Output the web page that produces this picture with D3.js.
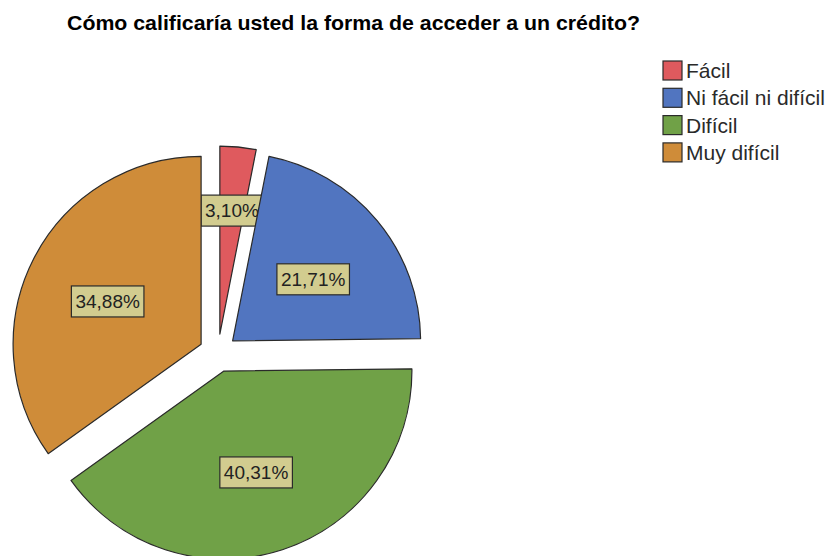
<!DOCTYPE html>
<html>
<head>
<meta charset="utf-8">
<script src="https://cdn.jsdelivr.net/npm/d3@7"></script>
<style>
  body { margin: 0; background: #fff; }
  svg { display: block; }
</style>
</head>
<body>
<svg id="chart" width="827" height="556"></svg>
<script>
const title = "Cómo calificaría usted la forma de acceder a un crédito?";
const categories = ["Fácil", "Ni fácil ni difícil", "Difícil", "Muy difícil"];
const values = [3.10, 21.71, 40.31, 34.88];
const colors = ["#df5a5e", "#5175c0", "#70a147", "#cf8c39"];

const svg = d3.select("#chart");
const cx = 218, cy = 353, R = 188, explode = 19;

svg.append("text")
  .attr("x", 67).attr("y", 30)
  .attr("font-family", "Liberation Sans, Arial, sans-serif")
  .attr("font-weight", "bold")
  .attr("font-size", 21)
  .attr("textLength", 573)
  .attr("lengthAdjust", "spacingAndGlyphs")
  .attr("fill", "#000")
  .text(title);

const data = categories.map((c, i) => ({ cat: c, value: values[i], color: colors[i] }));
const pie = d3.pie().value(d => d.value).sort(null);
const arcs = pie(data);
const arc = d3.arc().innerRadius(0).outerRadius(R);

const g = svg.append("g").attr("transform", `translate(${cx},${cy})`);

const slices = g.selectAll("g.slice").data(arcs).enter().append("g")
  .attr("class", "slice")
  .attr("transform", d => {
    const m = (d.startAngle + d.endAngle) / 2;
    return `translate(${explode * Math.sin(m)},${-explode * Math.cos(m)})`;
  });

slices.append("path")
  .attr("d", arc)
  .attr("fill", d => d.data.color)
  .attr("stroke", "#2a2a2a")
  .attr("stroke-width", 1.2)
  .attr("stroke-linejoin", "round");

const fmt = v => v.toFixed(2).replace(".", ",") + "%";

slices.each(function(d) {
  const m = (d.startAngle + d.endAngle) / 2;
  const small = (d.endAngle - d.startAngle) < 0.3;
  const lr = small ? 0.66 * R : 0.545 * R;
  const lx = lr * Math.sin(m) + (small ? 0 : 3 * Math.sin(m) * Math.abs(Math.sin(m)));
  const ly = -lr * Math.cos(m) + (small ? 0 : 4);
  const sel = d3.select(this);
  const t = sel.append("text")
    .attr("x", lx).attr("y", ly)
    .attr("text-anchor", "middle")
    .attr("dominant-baseline", "central")
    .attr("font-family", "Liberation Sans, Arial, sans-serif")
    .attr("font-size", 19)
    .attr("fill", "#222")
    .text(fmt(d.data.value));
  const bb = t.node().getBBox();
  sel.insert("rect", "text")
    .attr("x", bb.x - 4).attr("y", ly - 15.5)
    .attr("width", bb.width + 8).attr("height", 31)
    .attr("fill", "#d2cc8f")
    .attr("stroke", "#2a2a2a")
    .attr("stroke-width", 1.2);
});

const legend = svg.append("g").attr("transform", "translate(663,61)");
const rows = legend.selectAll("g").data(data).enter().append("g")
  .attr("transform", (d, i) => `translate(0,${i * 27.3})`);
rows.append("rect")
  .attr("width", 19).attr("height", 19)
  .attr("fill", d => d.color)
  .attr("stroke", "#2a2a2a").attr("stroke-width", 1.2);
rows.append("text")
  .attr("x", 23).attr("y", 17)
  .attr("font-family", "Liberation Sans, Arial, sans-serif")
  .attr("font-size", 21)
  .attr("fill", "#2a2a2a")
  .text(d => d.cat);
</script>
</body>
</html>
